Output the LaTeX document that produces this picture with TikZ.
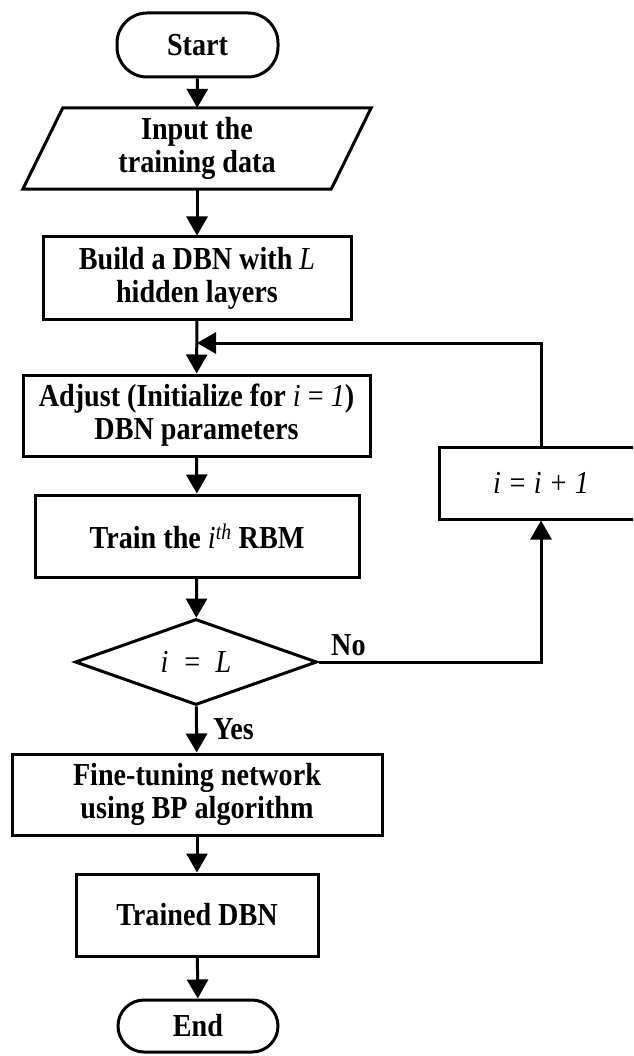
\documentclass[tikz,border=0pt]{standalone}
\usepackage{fontspec}
\setmainfont{Liberation Serif}[FakeStretch=0.88]
\usetikzlibrary{arrows.meta,shapes.geometric}
\begin{document}
\begin{tikzpicture}[x=1pt,y=-1pt,
  every node/.style={font=\fontsize{32}{33}\selectfont\bfseries, inner sep=0pt, align=center},
  box/.style={draw, rectangle, line width=3pt},
  term/.style={draw, rectangle, rounded corners=30pt, line width=3pt, minimum width=161pt},
  arr/.style={line width=3pt, -{Triangle[length=19pt,width=21pt]}},
  lbl/.style={font=\fontsize{32}{33}\selectfont\bfseries}
]
\useasboundingbox (0,0) rectangle (633,1056);
\fill[white] (0,0) rectangle (633,1056);

\node[term, minimum height=64pt] (start) at (197.5,45) {Start};
\node[minimum width=308pt, minimum height=81pt] (input) at (197,148.5) {Input the\\training data};
\draw[line width=3pt, line join=miter]
  ([xshift=20pt]input.north west) -- ([xshift=20pt]input.north east) --
  ([xshift=-20pt]input.south east) -- ([xshift=-20pt]input.south west) -- cycle;
\node[box, minimum width=308pt, minimum height=82pt] (build) at (197,278)
  {Build a DBN with \textit{\mdseries L}\\hidden layers};
\node[box, minimum width=347pt, minimum height=81pt] (adjust) at (196.5,415.5)
  {Adjust (Initialize for \textit{\mdseries i} {\mdseries =} \textit{\mdseries 1})\\DBN parameters};
\node[box, minimum width=324pt, minimum height=82pt] (train) at (197,536)
  {Train the \textit{\mdseries i}\textsuperscript{\textit{\mdseries th}} RBM};
\node[draw, diamond, aspect=2.8, line width=3pt, minimum width=242pt, minimum height=86pt] (dia) at (196,662)
  {\mdseries\itshape i\ \ =\ \ L};
\node[box, minimum width=370pt, minimum height=81pt] (fine) at (197,794.5)
  {Fine-tuning network\\using BP algorithm};
\node[box, minimum width=242pt, minimum height=82pt] (trained) at (197,915) {Trained DBN};
\node[term, minimum height=52pt, rounded corners=26pt, minimum width=160pt] (end) at (198,1026) {End};

\begin{scope}
\clip (0,0) rectangle (633,1056);
\node[box, minimum width=204pt, minimum height=72pt] (inc) at (541,483)
  {\mdseries\itshape i = i + 1};
\end{scope}

\coordinate (join) at (197,343);

\draw[arr] (start) -- (input);
\draw[arr] (input) -- (build);
\draw[arr] (build) -- (adjust);
\draw[arr] (adjust) -- (train);
\draw[arr] (train) -- (dia);
\draw[arr] (dia) -- (fine);
\draw[arr] (fine) -- (trained);
\draw[arr] (trained) -- (end);
\draw[arr] (dia.east) -| (inc.south);
\draw[arr] (inc.north) |- (join);

\node[lbl, anchor=base west] (no) at (331,655) {No};
\node[lbl, anchor=west] (yes) at (213,729) {Yes};
\end{tikzpicture}
\end{document}
